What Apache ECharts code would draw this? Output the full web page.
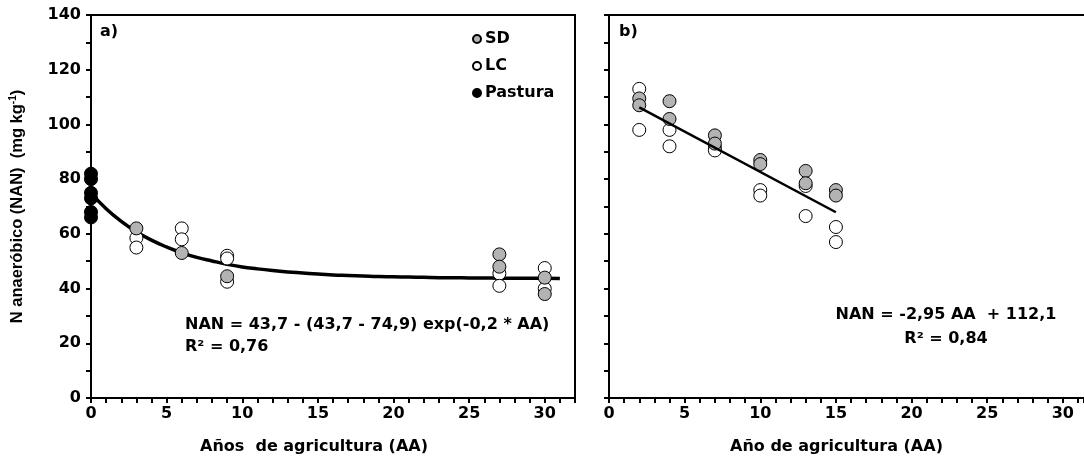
<!DOCTYPE html>
<html>
<head>
<meta charset="utf-8">
<script src="https://cdn.jsdelivr.net/npm/echarts@6/dist/echarts.min.js"></script>
<style>
  html, body { margin: 0; padding: 0; background: #fff; }
  #chart { width: 1084px; height: 460px; }
</style>
</head>
<body>
<div id="chart"></div>
<script>
// panel a) Años de agricultura vs NAN
const pastura = [[0, 82], [0, 80], [0, 75], [0, 73], [0, 68], [0, 66]];
const sdA = [[3, 62], [6, 53], [9, 44.5], [27, 52.5], [27, 48], [30, 44], [30, 38]];
const lcA = [[3, 58.5], [3, 55], [6, 62], [6, 58], [9, 52], [9, 51], [9, 42.5],
  [27, 45.5], [27, 41], [30, 47.5], [30, 40]];
// fitted curve at each year
const curveX = [0, 1, 2, 3, 4, 5, 6, 7, 8, 9, 10, 11, 12, 13, 14, 15, 16, 17, 18, 19, 20,
  21, 22, 23, 24, 25, 26, 27, 28, 29, 30, 31];
const curveY = [74.9, 69.2, 64.6, 60.8, 57.7, 55.2, 53.1, 51.4, 50.1, 48.9, 47.9, 47.2,
  46.6, 46.1, 45.7, 45.3, 45.0, 44.8, 44.6, 44.4, 44.3, 44.2, 44.1, 44.0, 44.0, 43.9,
  43.9, 43.8, 43.8, 43.8, 43.8, 43.7];

// panel b)
const sdB = [[2, 109.5], [2, 107], [4, 108.5], [4, 102], [7, 96], [7, 93], [10, 87],
  [10, 85.5], [13, 83], [13, 78.5], [15, 76], [15, 74]];
const lcB = [[2, 113], [2, 98], [4, 98], [4, 92], [7, 91.5], [7, 90.5], [10, 76], [10, 74],
  [13, 77.5], [13, 66.5], [15, 62.5], [15, 57]];
const lineB = [[2, 106.2], [15, 67.9]];

const FONT = '"DejaVu Sans", sans-serif';
const NARROW = '"Liberation Sans", Arial, sans-serif';
const ink = '#000';

const chart = echarts.init(document.getElementById('chart'));

function xAxisOf(idx, max, name, shift) {
  return {
    gridIndex: idx, type: 'value', min: 0, max: max, interval: 5,
    name: name, nameLocation: 'middle', nameGap: 41,
    nameTextStyle: { fontFamily: FONT, fontWeight: 'bold', fontSize: 16, color: ink,
      padding: [0, shift, 0, 0] },
    axisLine: { show: true, onZero: false, lineStyle: { color: ink, width: 2 } },
    axisTick: { show: true, length: 5, lineStyle: { color: ink, width: 2 } },
    minorTick: { show: true, splitNumber: 5, length: 5, lineStyle: { color: ink, width: 2 } },
    axisLabel: { fontFamily: FONT, fontWeight: 'bold', fontSize: 16, color: ink, margin: 8,
      showMaxLabel: false },
    splitLine: { show: false }
  };
}

function yAxisOf(idx, showLabels) {
  return {
    gridIndex: idx, type: 'value', min: 0, max: 140, interval: 20,
    name: showLabels ? '{t|N anaeróbico (NAN)  (mg kg}{s|-1}{t|)}' : '',
    nameLocation: 'middle', nameGap: 64, nameRotate: 90,
    nameTextStyle: {
      rich: {
        t: { fontFamily: NARROW, fontWeight: 'bold', fontSize: 16.5, color: ink },
        s: { fontFamily: NARROW, fontWeight: 'bold', fontSize: 10, color: ink, padding: [0, 0, 9, 0] }
      }
    },
    axisLine: { show: true, onZero: false, lineStyle: { color: ink, width: 2 } },
    axisTick: { show: true, length: 5, lineStyle: { color: ink, width: 2 } },
    minorTick: { show: true, splitNumber: 2, length: 5, lineStyle: { color: ink, width: 2 } },
    axisLabel: { show: showLabels, fontFamily: FONT, fontWeight: 'bold', fontSize: 16,
      color: ink, margin: 10 },
    splitLine: { show: false }
  };
}

const dotStyle = (fill) => ({ color: fill, borderColor: ink, borderWidth: 1, opacity: 1 });

chart.setOption({
  animation: false,
  backgroundColor: '#fff',
  grid: [
    { left: 91, top: 15, width: 484, bottom: 62, show: true, borderColor: ink, borderWidth: 2 },
    { left: 609, top: 15, right: 0, bottom: 62, show: false }
  ],
  xAxis: [
    xAxisOf(0, 32, 'Años  de agricultura (AA)', 38),
    xAxisOf(1, 31.4, 'Año de agricultura (AA)', 20),
    // top frame line of panel b), cut by the page edge
    { gridIndex: 1, type: 'value', position: 'top', min: 0, max: 31.4,
      axisLine: { show: true, onZero: false, lineStyle: { color: ink, width: 2 } },
      axisTick: { show: false }, axisLabel: { show: false }, splitLine: { show: false } }
  ],
  yAxis: [yAxisOf(0, true), yAxisOf(1, false)],
  legend: {
    left: 467, top: 26, orient: 'vertical', itemGap: 11, itemWidth: 8, itemHeight: 8,
    icon: 'circle',
    textStyle: { fontFamily: FONT, fontWeight: 'bold', fontSize: 16, color: ink, padding: [0, 0, 0, -1] },
    data: ['SD', 'LC', 'Pastura']
  },
  series: [
    { name: 'curveA', type: 'line', xAxisIndex: 0, yAxisIndex: 0, smooth: true, symbol: 'none',
      lineStyle: { color: ink, width: 3.5 }, z: 1,
      data: curveX.map((x, i) => [x, curveY[i]]) },
    { name: 'LC', type: 'scatter', xAxisIndex: 0, yAxisIndex: 0, symbolSize: 13, clip: false,
      itemStyle: dotStyle('#fff'), data: lcA, z: 3 },
    { name: 'SD', type: 'scatter', xAxisIndex: 0, yAxisIndex: 0, symbolSize: 13, clip: false,
      itemStyle: dotStyle('#b3b3b3'), data: sdA, z: 3 },
    { name: 'Pastura', type: 'scatter', xAxisIndex: 0, yAxisIndex: 0, symbolSize: 13, clip: false,
      itemStyle: dotStyle('#000'), data: pastura, z: 4 },
    { name: 'lineB', type: 'line', xAxisIndex: 1, yAxisIndex: 1, symbol: 'none',
      lineStyle: { color: ink, width: 2.5 }, data: lineB, z: 5 },
    { name: 'LC', type: 'scatter', xAxisIndex: 1, yAxisIndex: 1, symbolSize: 13,
      itemStyle: dotStyle('#fff'), data: lcB, z: 3 },
    { name: 'SD', type: 'scatter', xAxisIndex: 1, yAxisIndex: 1, symbolSize: 13,
      itemStyle: dotStyle('#b3b3b3'), data: sdB, z: 3 }
  ],
  graphic: [
    { type: 'text', left: 100, top: 24,
      style: { text: 'a)', font: 'bold 16px ' + FONT, fill: ink } },
    { type: 'text', left: 619, top: 24,
      style: { text: 'b)', font: 'bold 16px ' + FONT, fill: ink } },
    { type: 'text', left: 185, top: 314,
      style: { text: 'NAN = 43,7 - (43,7 - 74,9) exp(-0,2 * AA)\nR² = 0,76',
        font: 'bold 16px ' + FONT, fill: ink, lineHeight: 22 } },
    { type: 'text', x: 946, y: 303,
      style: { text: 'NAN = -2,95 AA  + 112,1\nR² = 0,84', textAlign: 'center',
        font: 'bold 16px ' + FONT, fill: ink, lineHeight: 24 } }
  ]
});
</script>
</body>
</html>
